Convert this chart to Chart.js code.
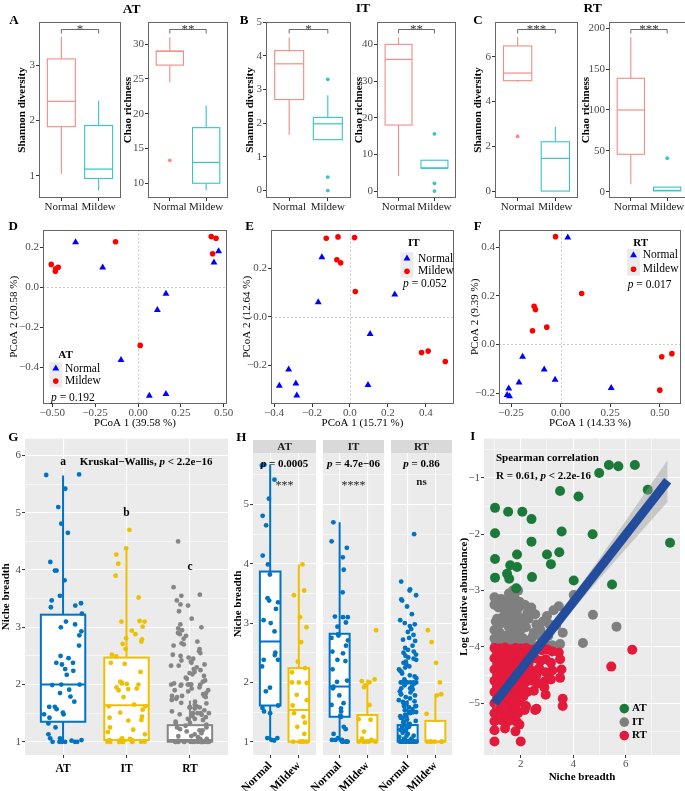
<!DOCTYPE html>
<html>
<head>
<meta charset="utf-8">
<title>Diversity, PCoA and niche breadth</title>
<script src="https://cdn.jsdelivr.net/npm/chart.js@4.4.1/dist/chart.umd.min.js"></script>
<style>
html,body{margin:0;padding:0;background:#fff;}
#fig{position:relative;width:685px;height:791px;overflow:hidden;background:#fff;}
#fig canvas{position:absolute;}
.tag{position:absolute;transform:translate(-50%,-50%);font-family:"Liberation Serif","Times New Roman",serif;font-weight:bold;color:#000;white-space:nowrap;line-height:1;}
</style>
</head>
<body>
<div id="fig"></div>
<script>
/* ======================= DATA ======================= */
const groups = ['Normal', 'Mildew'];
const tissues = ['AT', 'IT', 'RT'];

/* A-C box statistics: [lower whisker, Q1, median, Q3, upper whisker] (Normal, Mildew) */
const atShannonBox = [[1.03, 1.89, 2.35, 3.12, 3.52], [0.73, 0.95, 1.12, 1.91, 2.36]];
const atShannonOut = [[], []];
const atChaoBox = [[24.5, 27.0, 29.0, 29.0, 31.0], [9.0, 10.0, 13.0, 18.0, 21.2]];
const atChaoOut = [[13.3], []];
const itShannonBox = [[1.65, 2.70, 3.76, 4.15, 4.54], [1.51, 1.51, 1.98, 2.17, 2.83]];
const itShannonOut = [[], [3.30, 0.40, 0.00]];
const itChaoBox = [[4.1, 18.0, 35.9, 40.0, 41.9], [6.2, 6.2, 6.3, 8.4, 8.4]];
const itChaoOut = [[], [15.6, 2.1, 0.0]];
const rtShannonBox = [[4.88, 4.93, 5.27, 6.48, 6.87], [0.00, 0.00, 1.46, 2.20, 2.87]];
const rtShannonOut = [[2.44], []];
const rtChaoBox = [[9.0, 45.8, 100.0, 138.8, 188.9], [1.0, 1.0, 1.6, 5.6, 5.6]];
const rtChaoOut = [[], [41.0]];
const diversitySig = ['*', '**', '*', '**', '***', '***'];
const diversitySigY = [3.66, 32.2, 4.78, 44.1, 7.22, 198.8];

const atShannonTicks = [1, 2, 3];
const atChaoTicks = [10, 15, 20, 25, 30];
const itShannonTicks = [0, 1, 2, 3, 4, 5];
const itChaoTicks = [0, 10, 20, 30, 40];
const rtShannonTicks = [0, 2, 4, 6];
const rtChaoTicks = [0, 50, 100, 150, 200];

/* D-F PCoA coordinates */
const atNormalPC1 = [-0.364, -0.206, 0.470, 0.443, 0.163, 0.113, -0.099, 0.066, 0.163];
const atNormalPC2 = [0.225, 0.098, 0.180, 0.123, -0.033, -0.114, -0.364, -0.543, -0.534];
const atMildewPC1 = [-0.131, -0.506, -0.480, -0.465, -0.482, 0.427, 0.455, 0.435, 0.013];
const atMildewPC2 = [0.227, 0.114, 0.092, 0.100, 0.080, 0.253, 0.245, 0.167, -0.291];
const itNormalPC1 = [-0.148, -0.167, 0.236, 0.106, -0.323, -0.372, -0.285, -0.280, 0.095];
const itNormalPC2 = [0.245, 0.060, 0.091, -0.071, -0.218, -0.285, -0.275, -0.325, -0.282];
const itMildewPC1 = [-0.125, -0.063, 0.024, -0.069, -0.049, 0.028, 0.377, 0.412, 0.502];
const itMildewPC2 = [0.323, 0.329, 0.326, 0.235, 0.222, 0.104, -0.148, -0.142, -0.185];
const rtNormalPC1 = [0.036, -0.192, -0.083, -0.028, -0.210, -0.262, -0.270, -0.258, 0.255];
const rtNormalPC2 = [0.440, -0.051, -0.103, -0.145, -0.157, -0.181, -0.208, -0.213, -0.179];
const rtMildewPC1 = [-0.026, 0.106, -0.134, -0.127, -0.070, -0.142, 0.510, 0.561, 0.500];
const rtMildewPC2 = [0.443, 0.209, 0.157, 0.143, 0.071, 0.056, -0.051, -0.038, -0.188];
const pcoaP = ['0.192', '0.052', '0.017'];
const pcoaAxis1 = ['PCoA 1 (39.58 %)', 'PCoA 1 (15.71 %)', 'PCoA 1 (14.33 %)'];
const pcoaAxis2 = ['PCoA 2 (20.58 %)', 'PCoA 2 (12.64 %)', 'PCoA 2 (9.39 %)'];
const dTicksX = [-0.5, -0.25, 0, 0.25, 0.5];
const dLabelsX = ['\u22120.50', '\u22120.25', '0.00', '0.25', '0.50'];
const dTicksY = [-0.4, -0.2, 0, 0.2];
const dLabelsY = ['\u22120.4', '\u22120.2', '0.0', '0.2'];
const eTicksX = [-0.4, -0.2, 0, 0.2, 0.4];
const eLabelsX = ['\u22120.4', '\u22120.2', '0.0', '0.2', '0.4'];
const eTicksY = [-0.2, 0, 0.2];
const eLabelsY = ['\u22120.2', '0.0', '0.2'];
const fTicksX = [-0.25, 0, 0.25, 0.5];
const fLabelsX = ['\u22120.25', '0.00', '0.25', '0.50'];
const fTicksY = [-0.2, 0, 0.2, 0.4];
const fLabelsY = ['\u22120.2', '0.0', '0.2', '0.4'];

/* G-H niche breadth values */
const nbAtNormal = [5.67, 5.66, 5.42, 5.10, 4.81, 4.65, 4.14, 3.99, 3.82, 3.42, 3.38, 3.35, 3.24, 3.05, 3.00, 2.86,
  2.50, 2.46, 2.38, 2.38, 2.27, 1.91, 1.85, 1.61, 1.57, 1.51, 1.48, 1.06, 1.06, 1.03, 1.02];
const nbAtMildew = [3.99, 3.55, 3.47, 3.10, 2.93, 2.68, 2.35, 2.24, 2.17, 2.00, 2.00, 1.99, 1.79, 1.70, 1.61, 1.48,
  1.42, 1.32, 1.25, 1.13, 1.00, 1.00, 1.00, 1.00, 1.00, 1.00];
const nbItNormal = [4.70, 4.38, 4.27, 4.11, 3.90, 3.52, 3.11, 3.10, 3.10, 3.01, 2.94, 2.81, 2.79, 2.75, 2.71, 2.62,
  2.52, 2.49, 2.38, 2.36, 2.22, 2.03, 2.01, 1.93, 1.90, 1.78, 1.65, 1.62, 1.56, 1.51, 1.44, 1.42, 1.25, 1.21,
  1.13, 1.06, 1.03, 1.03, 1.03, 1.00, 1.00, 1.00, 1.00, 1.00];
const nbItMildew = [2.88, 2.05, 2.02, 2.00, 1.95, 1.92, 1.62, 1.38, 1.37, 1.17, 1.05, 1.03, 1.00, 1.00, 1.00, 1.00, 1.00, 1.00];
const nbRtNormal = [4.50, 3.70, 3.57, 3.55, 3.47, 3.40, 3.38, 3.28, 3.15, 3.05, 3.00, 2.98, 2.95, 2.90, 2.85, 2.80,
  2.75, 2.72, 2.70, 2.62, 2.58, 2.55, 2.52, 2.50, 2.47, 2.45, 2.42, 2.40, 2.38, 2.35, 2.33, 2.30, 2.27, 2.25,
  2.22, 2.20, 2.18, 2.15, 2.12, 2.10, 2.07, 2.05, 2.02, 2.00, 2.00, 2.00, 2.00, 2.00, 2.00, 2.00, 1.98, 1.95,
  1.93, 1.90, 1.90, 1.88, 1.85, 1.83, 1.80, 1.80, 1.78, 1.75, 1.73, 1.70, 1.68, 1.67, 1.65, 1.62, 1.60, 1.60,
  1.60, 1.60, 1.58, 1.55, 1.53, 1.50, 1.50, 1.50, 1.50, 1.48, 1.45, 1.43, 1.40, 1.40, 1.38, 1.35, 1.33, 1.33,
  1.30, 1.28, 1.25, 1.25, 1.22, 1.20, 1.20, 1.18, 1.15, 1.13, 1.10, 1.10, 1.08, 1.05, 1.05, 1.03, 1.02, 1.00,
  1.00, 1.00, 1.00, 1.00, 1.00, 1.00, 1.00, 1.00, 1.00, 1.00, 1.00, 1.00, 1.00, 1.00];
const nbRtMildew = [2.88, 2.68, 2.33, 2.00, 1.80, 1.78, 1.47, 1.00, 1.00, 1.00, 1.00, 1.00, 1.00];

const gBox = [[1.00, 1.35, 2.00, 3.22, 5.65], [1.00, 1.03, 1.64, 2.47, 4.39], [1.00, 1.00, 1.03, 1.29, 1.72]];
const gLetters = ['a', 'b', 'c'];
const gLetterY = [5.88, 5.00, 4.06];
const hAtBox = [[1.02, 1.61, 2.69, 3.87, 5.67], [1.00, 1.00, 1.535, 2.24, 3.99]];
const hItBox = [[1.00, 1.42, 1.93, 2.82, 4.70], [1.00, 1.00, 1.02, 1.45, 2.05]];
const hRtBox = [[1.00, 1.00, 1.02, 1.28, 1.70], [1.00, 1.00, 1.00, 1.35, 1.79]];
const hP = ['0.0005', '4.7e\u221206', '0.86'];
const hSig = ['***', '****', 'ns'];
const gTicks = [1, 1.5, 2, 2.5, 3, 3.5, 4, 4.5, 5, 5.5, 6];
const gLabels = ['1', '', '2', '', '3', '', '4', '', '5', '', '6'];
const hTicks = [1, 1.5, 2, 2.5, 3, 3.5, 4, 4.5, 5, 5.5];
const hLabels = ['1', '', '2', '', '3', '', '4', '', '5', ''];

/* I: niche breadth vs log relative abundance */
const iAtPts = [[5.36, -0.77], [5.72, -0.79], [6.35, -0.77], [4.99, -0.91], [6.84, -1.21], [3.50, -1.23], [4.20, -1.33],
  [1.02, -1.53], [1.52, -1.60], [2.06, -1.60], [2.41, -1.73], [1.02, -1.98], [3.56, -1.95], [4.74, -2.00],
  [7.69, -2.15], [2.41, -2.13], [1.02, -2.44], [1.86, -2.36], [3.00, -2.36], [3.47, -2.32], [1.60, -2.55],
  [1.86, -2.58], [3.15, -2.53], [1.48, -2.70], [1.56, -2.79], [1.02, -2.77], [2.43, -2.76], [4.02, -2.82],
  [5.48, -2.89], [1.83, -2.96]];
const iItPts = [[1.00, -3.12], [1.25, -3.15], [1.55, -3.05], [1.75, -3.10], [1.90, -3.00], [1.95, -3.20], [1.60, -3.30],
  [1.35, -3.45], [1.10, -3.50], [1.50, -3.55], [1.85, -3.40], [2.05, -3.50], [2.40, -3.30], [2.55, -3.42],
  [2.85, -3.55], [3.00, -3.45], [3.25, -3.35], [3.45, -3.28], [4.02, -3.08], [4.75, -3.43], [5.65, -3.64],
  [4.37, -3.93], [1.00, -3.70], [1.20, -3.75], [1.45, -3.80], [1.70, -3.72], [1.95, -3.78], [2.20, -3.65],
  [2.45, -3.82], [2.75, -3.70], [3.05, -3.80], [3.35, -3.62], [3.60, -3.75], [1.05, -3.95], [1.30, -3.98],
  [1.60, -3.95], [1.85, -3.92], [2.10, -3.97], [2.35, -3.93], [2.65, -3.98], [2.95, -3.95], [3.20, -3.97],
  [1.15, -3.30], [1.75, -3.55], [2.25, -3.40], [1.40, -3.20], [2.60, -3.60], [3.50, -3.95], [1.90, -3.60],
  [1.55, -3.65], [1.00, -3.25], [1.20, -3.60], [1.40, -3.35], [1.65, -3.45], [1.80, -3.20], [1.30, -3.85],
  [1.55, -3.85], [1.80, -3.85], [2.00, -3.70], [2.30, -3.50], [2.50, -3.75], [2.80, -3.85], [3.10, -3.60],
  [2.10, -3.85], [1.70, -3.00], [1.62, -3.15], [1.92, -3.30], [2.15, -3.25], [1.00, -3.85], [1.05, -3.55]];
const iRtPts = [[1.00, -4.02], [1.20, -4.03], [1.40, -4.01], [1.60, -4.04], [1.80, -4.02], [2.00, -4.03], [2.20, -4.02],
  [2.40, -4.05], [2.60, -4.03], [2.80, -4.06], [3.00, -4.04], [3.20, -4.08], [3.45, -4.10],
  [1.00, -4.20], [1.15, -4.22], [1.35, -4.18], [1.55, -4.21], [1.75, -4.20], [1.95, -4.23], [2.15, -4.19],
  [2.35, -4.22], [2.55, -4.20], [2.75, -4.25], [2.95, -4.22], [3.15, -4.28], [3.50, -4.22],
  [1.00, -4.40], [1.20, -4.38], [1.40, -4.42], [1.60, -4.40], [1.80, -4.39], [2.00, -4.41], [2.20, -4.40],
  [2.45, -4.43], [2.70, -4.38], [2.95, -4.45], [3.20, -4.42], [3.55, -4.40],
  [1.00, -4.60], [1.15, -4.58], [1.35, -4.62], [1.55, -4.60], [1.75, -4.61], [1.95, -4.58], [2.20, -4.62],
  [2.45, -4.60], [2.65, -4.65], [2.90, -4.62], [3.15, -4.58], [3.50, -4.55],
  [1.00, -4.80], [1.20, -4.78], [1.40, -4.82], [1.60, -4.80], [1.80, -4.79], [2.00, -4.82], [2.25, -4.80],
  [2.50, -4.78], [2.95, -4.85], [2.90, -4.72],
  [1.00, -5.00], [1.15, -5.02], [1.35, -4.98], [1.55, -5.00], [1.75, -5.03], [1.95, -4.98], [2.20, -5.05],
  [2.55, -5.12], [3.60, -4.92], [3.60, -5.05],
  [1.00, -5.18], [1.30, -5.15], [1.50, -5.20], [1.70, -5.15], [1.90, -5.18], [2.15, -5.12], [2.60, -5.10],
  [1.00, -5.32], [1.25, -5.30], [1.45, -5.35], [1.65, -5.30], [1.85, -5.33], [1.95, -5.38],
  [1.00, -5.48], [1.40, -5.45], [1.80, -5.50], [1.00, -5.68], [2.00, -5.68],
  [1.10, -4.10], [1.30, -4.12], [1.50, -4.10], [1.70, -4.12], [1.90, -4.10], [2.10, -4.12], [2.30, -4.10],
  [1.10, -4.30], [1.30, -4.30], [1.50, -4.32], [1.70, -4.30], [1.90, -4.30], [2.10, -4.32], [2.30, -4.30],
  [1.10, -4.50], [1.30, -4.50], [1.50, -4.52], [1.70, -4.50], [1.90, -4.50], [2.10, -4.52], [2.35, -4.50],
  [2.60, -4.50], [1.10, -4.70], [1.30, -4.70], [1.50, -4.72], [1.70, -4.70], [1.90, -4.70], [2.10, -4.72],
  [1.10, -4.90], [1.30, -4.90], [1.50, -4.90], [1.70, -4.92], [1.90, -4.90], [2.10, -4.88],
  [1.10, -5.08], [1.40, -5.08], [1.80, -5.08], [5.45, -4.35], [6.25, -4.05]];
const fitX = [1.0, 7.6];
const fitY = [-5.0, -1.05];
const bandX = [1.0, 2.0, 3.0, 4.0, 5.0, 6.0, 7.6];
const bandUpper = [-4.90, -4.35, -3.74, -3.09, -2.43, -1.76, -0.68];
const bandLower = [-5.10, -4.45, -3.88, -3.33, -2.79, -2.26, -1.42];
const iTicksX = [1, 2, 3, 4, 5, 6, 7];
const iLabelsX = ['', '2', '', '4', '', '6', ''];
const iTicksY = [-5.5, -5, -4.5, -4, -3.5, -3, -2.5, -2, -1.5, -1, -0.5];
const iLabelsY = ['', '\u22125', '', '\u22124', '', '\u22123', '', '\u22122', '', '\u22121', ''];

/* ======================= HELPERS ======================= */
const SERIF = '"Liberation Serif","Times New Roman",serif';
Chart.defaults.font.family = SERIF;
const fig = document.getElementById('fig');

function fnt(size, weight, style) { return { family: SERIF, size: size, weight: weight || 'normal', style: style || 'normal', lineHeight: 1.2 }; }
function css(size, weight, style) { return (style || 'normal') + ' ' + (weight || 'normal') + ' ' + size + 'px ' + SERIF; }

function gridCfg(kind, majors) {
  const isMajor = c => !!c.tick && majors.indexOf(c.tick.value) >= 0;
  if (kind === 'frame') {
    return { display: true, drawOnChartArea: false, drawTicks: true, tickLength: 3, tickColor: '#333', tickWidth: 1, color: '#333', lineWidth: 1 };
  }
  return {
    display: true, drawOnChartArea: true, drawTicks: kind === 'gray', tickLength: kind === 'gray' ? 3 : 0,
    color: '#ffffff', lineWidth: c => (isMajor(c) ? 1.1 : 0.55),
    tickColor: c => (isMajor(c) ? '#333' : 'rgba(0,0,0,0)'), tickWidth: 1
  };
}

function axis(p) {
  const horizontal = p.pos === 'x';
  return {
    type: 'linear', position: horizontal ? 'bottom' : 'left', bounds: 'data', min: p.min, max: p.max,
    afterBuildTicks: s => { s.ticks = p.ticks.map(v => ({ value: v })); },
    afterFit: s => { if (horizontal) s.height = p.size; else s.width = p.size; },
    ticks: {
      display: !!p.labels, autoSkip: false, minRotation: p.rot || 0, maxRotation: p.rot || 0,
      callback: (v, i) => (p.labels ? p.labels[i] : ''),
      font: fnt(p.fs || 11, p.fw), color: p.tc || '#4d4d4d', padding: p.tpad == null ? 1 : p.tpad
    },
    grid: gridCfg(p.grid, p.majors || p.ticks),
    border: { display: false },
    title: {
      display: !!p.title, text: p.title || '', color: '#000', font: fnt(p.tfs || 11, p.tfw || 'bold'),
      padding: horizontal ? { top: 0, bottom: p.tp || 0 } : { top: p.tp || 0, bottom: 0 }
    }
  };
}

function build(o) {
  const L = o.plot[0], T = o.plot[1], R = o.plot[2], B = o.plot[3], e = o.ext;
  const w = R - L + e.l + e.r, h = B - T + e.t + e.b;
  const cv = document.createElement('canvas');
  cv.width = w; cv.height = h;
  cv.style.left = (L - e.l) + 'px'; cv.style.top = (T - e.t) + 'px';
  cv.style.width = w + 'px'; cv.style.height = h + 'px';
  fig.appendChild(cv);
  const noop = () => {};
  return new Chart(cv, {
    type: o.type || 'scatter',
    data: { datasets: o.datasets },
    options: {
      responsive: false, animation: false, events: [], devicePixelRatio: 1,
      layout: { padding: { left: 0, top: e.t, right: e.r, bottom: 0 } },
      plugins: { legend: { display: false }, tooltip: { enabled: false } },
      scales: { x: o.x, y: o.y }
    },
    plugins: [{ id: 'deco', beforeDraw: o.bg || noop, beforeDatasetsDraw: o.under || noop, afterDraw: o.top || noop }]
  });
}

function jit(i, w) { const f = Math.sin((i + 1) * 12.9898) * 43758.5453; return ((f - Math.floor(f)) - 0.5) * 2 * w; }

function drawBoxes(ch, stats, cols, width, lw, medLw) {
  const ctx = ch.ctx, x = ch.scales.x, y = ch.scales.y;
  const hw = Math.abs(x.getPixelForValue(1 + width / 2) - x.getPixelForValue(1));
  ctx.save();
  stats.forEach((s, i) => {
    const cx = x.getPixelForValue(i + 1);
    const lo = y.getPixelForValue(s[0]), q1 = y.getPixelForValue(s[1]), md = y.getPixelForValue(s[2]);
    const q3 = y.getPixelForValue(s[3]), hi = y.getPixelForValue(s[4]);
    ctx.strokeStyle = cols[i]; ctx.lineWidth = lw;
    ctx.beginPath(); ctx.moveTo(cx, hi); ctx.lineTo(cx, q3); ctx.moveTo(cx, q1); ctx.lineTo(cx, lo); ctx.stroke();
    ctx.fillStyle = '#fff'; ctx.fillRect(cx - hw, q3, 2 * hw, q1 - q3);
    ctx.strokeRect(cx - hw, q3, 2 * hw, q1 - q3);
    ctx.lineWidth = medLw;
    ctx.beginPath(); ctx.moveTo(cx - hw, md); ctx.lineTo(cx + hw, md); ctx.stroke();
  });
  ctx.restore();
}

function frame(ch, col) {
  const a = ch.chartArea, ctx = ch.ctx;
  ctx.save(); ctx.strokeStyle = col; ctx.lineWidth = 1;
  ctx.strokeRect(Math.round(a.left) + 0.5, Math.round(a.top) + 0.5, Math.round(a.right - a.left) - 1, Math.round(a.bottom - a.top) - 1);
  ctx.restore();
}

function fillArea(ch, col) {
  const a = ch.chartArea, ctx = ch.ctx;
  ctx.save(); ctx.fillStyle = col; ctx.fillRect(a.left, a.top, a.right - a.left, a.bottom - a.top); ctx.restore();
}

function runs(ctx, parts, x0, cy, size, align, color) {
  let tot = 0;
  const ws = parts.map(p => { ctx.font = css(size, p[1], p[2]); const w = ctx.measureText(p[0]).width; tot += w; return w; });
  let x = align === 'left' ? x0 : x0 - tot / 2;
  ctx.textAlign = 'left'; ctx.textBaseline = 'middle'; ctx.fillStyle = color || '#000';
  parts.forEach((p, i) => { ctx.font = css(size, p[1], p[2]); ctx.fillText(p[0], x, cy); x += ws[i]; });
}

function bracket(ch, yv, label) {
  const ctx = ch.ctx, x = ch.scales.x, y = ch.scales.y;
  const x1 = x.getPixelForValue(1), x2 = x.getPixelForValue(2), py = Math.round(y.getPixelForValue(yv)) + 0.5;
  ctx.save(); ctx.strokeStyle = '#444'; ctx.lineWidth = 0.8;
  ctx.beginPath(); ctx.moveTo(x1, py + 4); ctx.lineTo(x1, py); ctx.lineTo(x2, py); ctx.lineTo(x2, py + 4); ctx.stroke();
  ctx.fillStyle = '#333'; ctx.font = css(13); ctx.textAlign = 'center'; ctx.textBaseline = 'alphabetic';
  ctx.fillText(label, (x1 + x2) / 2, py + 3.5);
  ctx.restore();
}

function tag(text, x, y, size) {
  const d = document.createElement('div');
  d.className = 'tag'; d.textContent = text;
  d.style.left = x + 'px'; d.style.top = y + 'px'; d.style.fontSize = size + 'px';
  fig.appendChild(d);
}

/* ======================= A-C ======================= */
const boxCols = ['#f28d85', '#36c4c8'];
const topCfg = [
  { plot: [39, 22, 121, 198], extL: 39, tp: 15.1, title: 'Shannon diversity', box: atShannonBox, out: atShannonOut, ticks: atShannonTicks, range: [0.595, 3.79] },
  { plot: [148, 22, 228, 198], extL: 30, tp: 3.7, title: 'Chao richness', box: atChaoBox, out: atChaoOut, ticks: atChaoTicks, range: [7.88, 33.2] },
  { plot: [266, 22, 351, 198], extL: 30, tp: 7.1, title: 'Shannon diversity', box: itShannonBox, out: itShannonOut, ticks: itShannonTicks, range: [-0.22, 5.0] },
  { plot: [377, 22, 456, 198], extL: 30, tp: 5.1, title: 'Chao richness', box: itChaoBox, out: itChaoOut, ticks: itChaoTicks, range: [-1.9, 46.1] },
  { plot: [495, 22, 578, 198], extL: 30, tp: 6.1, title: 'Shannon diversity', box: rtShannonBox, out: rtShannonOut, ticks: rtShannonTicks, range: [-0.31, 7.55] },
  { plot: [609, 22, 689, 198], extL: 30, tp: 0.4, title: 'Chao richness', box: rtChaoBox, out: rtChaoOut, ticks: rtChaoTicks, range: [-7.7, 207.7] }
];
topCfg.forEach((c, k) => {
  build({
    plot: c.plot, ext: { l: c.extL, t: 22, r: 4, b: 22 },
    datasets: c.out.map((arr, i) => ({
      data: arr.map(v => ({ x: i + 1, y: v })), pointRadius: 1.9, pointBackgroundColor: boxCols[i], pointBorderWidth: 0
    })),
    x: axis({ pos: 'x', min: 0.4, max: 2.6, ticks: [1, 2], labels: groups, size: 22, grid: 'frame', fs: 11, tc: '#1a1a1a', tpad: 0 }),
    y: axis({ pos: 'y', min: c.range[0], max: c.range[1], ticks: c.ticks, labels: c.ticks.map(String), size: c.extL, grid: 'frame', fs: 11, title: c.title, tp: c.tp }),
    under: ch => drawBoxes(ch, c.box, boxCols, 0.75, 1.1, 1.2, 2.0),
    top: ch => { frame(ch, '#666'); bracket(ch, diversitySigY[k], diversitySig[k]); }
  });
});

/* ======================= D-F ======================= */
function legendPC(ch, lg, title, p) {
  const ctx = ch.ctx, a = ch.chartArea, X = v => a.left + v, Y = v => a.top + v;
  ctx.save();
  ctx.fillStyle = '#000'; ctx.font = css(11, 'bold'); ctx.textAlign = 'left'; ctx.textBaseline = 'middle';
  ctx.fillText(title, X(lg.tx), Y(lg.ty));
  ctx.fillStyle = '#ebebeb'; ctx.fillRect(X(lg.kx - 6.5), Y(lg.k1 - 6.3), 13, lg.k2 - lg.k1 + 12.6);
  ctx.fillStyle = '#0000ff';
  const r = 4, kx = X(lg.kx), k1 = Y(lg.k1);
  ctx.beginPath(); ctx.moveTo(kx, k1 - r); ctx.lineTo(kx + r * 0.866, k1 + r * 0.5); ctx.lineTo(kx - r * 0.866, k1 + r * 0.5); ctx.closePath(); ctx.fill();
  ctx.fillStyle = '#ff0000'; ctx.beginPath(); ctx.arc(kx, Y(lg.k2), 2.8, 0, Math.PI * 2); ctx.fill();
  ctx.fillStyle = '#000'; ctx.font = css(11.5);
  ctx.fillText(groups[0], X(lg.lx), Y(lg.k1)); ctx.fillText(groups[1], X(lg.lx), Y(lg.k2));
  runs(ctx, [['p', 'normal', 'italic'], [' = ' + p, 'normal', 'normal']], X(lg.px), Y(lg.py), 11.5, 'left');
  ctx.restore();
}
function zeroLines(ch) {
  const ctx = ch.ctx, a = ch.chartArea, x = ch.scales.x, y = ch.scales.y;
  const px = Math.round(x.getPixelForValue(0)) + 0.5, py = Math.round(y.getPixelForValue(0)) + 0.5;
  ctx.save(); ctx.strokeStyle = '#bdbdbd'; ctx.lineWidth = 0.8; ctx.setLineDash([2, 2]);
  ctx.beginPath(); ctx.moveTo(px, a.top); ctx.lineTo(px, a.bottom); ctx.moveTo(a.left, py); ctx.lineTo(a.right, py); ctx.stroke();
  ctx.restore();
}
const pcCfg = [
  { plot: [43, 226, 227, 404], extL: 43, extR: 8, tp: 7.4, xr: [-0.554, 0.519], yr: [-0.584, 0.288], xt: dTicksX, xl: dLabelsX, yt: dTicksY, yl: dLabelsY,
    nx: atNormalPC1, ny: atNormalPC2, mx: atMildewPC1, my: atMildewPC2,
    lg: { tx: 15.3, ty: 126, kx: 12.8, k1: 139, k2: 151.5, lx: 22, px: 8, py: 168 } },
  { plot: [271, 226, 456, 404], extL: 40, extR: 2, tp: 9.7, xr: [-0.416, 0.548], yr: [-0.36, 0.359], xt: eTicksX, xl: eLabelsX, yt: eTicksY, yl: eLabelsY,
    nx: itNormalPC1, ny: itNormalPC2, mx: itMildewPC1, my: itMildewPC2,
    lg: { tx: 137, ty: 14, kx: 136, k1: 29, k2: 41.7, lx: 147, px: 132, py: 54.7 } },
  { plot: [499, 226, 685, 404], extL: 40, extR: 0, tp: 9.7, xr: [-0.311, 0.607], yr: [-0.245, 0.472], xt: fTicksX, xl: fLabelsX, yt: fTicksY, yl: fLabelsY,
    nx: rtNormalPC1, ny: rtNormalPC2, mx: rtMildewPC1, my: rtMildewPC2,
    lg: { tx: 134.3, ty: 14, kx: 134.5, k1: 25.7, k2: 39.7, lx: 143.7, px: 128.7, py: 55.7 } }
];
pcCfg.forEach((c, k) => {
  build({
    plot: c.plot, ext: { l: c.extL, t: 4, r: c.extR, b: 28 },
    datasets: [
      { data: c.nx.map((v, i) => ({ x: v, y: c.ny[i] })), pointStyle: 'triangle', pointRadius: 4, pointBackgroundColor: '#0000ff', pointBorderWidth: 0 },
      { data: c.mx.map((v, i) => ({ x: v, y: c.my[i] })), pointStyle: 'circle', pointRadius: 2.8, pointBackgroundColor: '#ff0000', pointBorderWidth: 0 }
    ],
    x: axis({ pos: 'x', min: c.xr[0], max: c.xr[1], ticks: c.xt, labels: c.xl, size: 28, grid: 'frame', fs: 11, tpad: 0, title: pcoaAxis1[k], tfw: 'normal', tp: 2.1 }),
    y: axis({ pos: 'y', min: c.yr[0], max: c.yr[1], ticks: c.yt, labels: c.yl, size: c.extL, grid: 'frame', fs: 11, title: pcoaAxis2[k], tfw: 'normal', tp: c.tp }),
    under: ch => zeroLines(ch),
    top: ch => { frame(ch, '#666'); legendPC(ch, c.lg, tissues[k], pcoaP[k]); }
  });
});

/* ======================= G ======================= */
const jco = ['#0073C2', '#EFC000', '#868686'];
const gValues = [nbAtNormal.concat(nbAtMildew), nbItNormal.concat(nbItMildew), nbRtNormal.concat(nbRtMildew)];
build({
  plot: [25, 437, 228, 755], ext: { l: 25, t: 6, r: 4, b: 25 },
  datasets: gValues.map((arr, i) => ({
    data: arr.map((v, j) => ({ x: i + 1 + jit(j + i * 500, 0.3), y: v })),
    pointRadius: 2.4, pointBackgroundColor: jco[i], pointBorderWidth: 0
  })),
  x: axis({ pos: 'x', min: 0.4, max: 3.6, ticks: [1, 2, 3], labels: tissues, size: 25, grid: 'gray', fs: 11.5, fw: 'bold', tc: '#000', tpad: 4 }),
  y: axis({ pos: 'y', min: 0.769, max: 6.296, ticks: gTicks, labels: gLabels, majors: [1, 2, 3, 4, 5, 6], size: 25, grid: 'gray', fs: 11, title: 'Niche breadth', tp: 0 }),
  bg: ch => fillArea(ch, '#ebebeb'),
  under: ch => drawBoxes(ch, gBox, jco, 0.7, 2, 2, 2.6),
  top: ch => {
    const ctx = ch.ctx, x = ch.scales.x, y = ch.scales.y;
    ctx.save();
    ctx.fillStyle = '#000'; ctx.font = css(11.5, 'bold'); ctx.textAlign = 'center'; ctx.textBaseline = 'middle';
    gLetters.forEach((t, i) => ctx.fillText(t, x.getPixelForValue(i + 1), y.getPixelForValue(gLetterY[i])));
    runs(ctx, [['Kruskal\u2212Wallis, ', 'bold', 'normal'], ['p', 'bold', 'italic'], [' < 2.2e\u221216', 'bold', 'normal']],
      x.getPixelForValue(2.31), y.getPixelForValue(5.88), 11);
    ctx.restore();
  }
});

/* ======================= H ======================= */
const hCols = ['#0073C2', '#EFC000'];
const hPlots = [[253, 453, 320, 755], [323, 453, 388, 755], [391, 453, 456, 755]];
const hBoxes = [hAtBox, hItBox, hRtBox];
const hVals = [[nbAtNormal, nbAtMildew], [nbItNormal, nbItMildew], [nbRtNormal, nbRtMildew]];
hPlots.forEach((pl, t) => {
  const first = t === 0;
  build({
    plot: pl, ext: { l: first ? 22 : 20, t: 13, r: 0, b: 36 },
    datasets: hVals[t].map((arr, g) => ({
      data: arr.map((v, j) => ({ x: g + 1 + jit(j + g * 1000 + t * 3000 + 77, 0.32), y: v })),
      pointRadius: 2.4, pointBackgroundColor: hCols[g], pointBorderWidth: 0
    })),
    x: axis({ pos: 'x', min: 0.4, max: 2.6, ticks: [1, 2], labels: groups, size: 36, grid: 'gray', fs: 11.5, fw: 'bold', tc: '#000', tpad: 1, rot: 45 }),
    y: axis({ pos: 'y', min: 0.775, max: 5.87, ticks: hTicks, labels: first ? hLabels : null, majors: [1, 2, 3, 4, 5],
      size: first ? 22 : 20, grid: first ? 'gray' : 'grayNoTicks', fs: 11, title: first ? 'Niche breadth' : null, tp: 0.4 }),
    bg: ch => fillArea(ch, '#ebebeb'),
    under: ch => drawBoxes(ch, hBoxes[t], hCols, 0.72, 2, 2, 2.6),
    top: ch => {
      const ctx = ch.ctx, a = ch.chartArea, x = ch.scales.x, y = ch.scales.y;
      ctx.save();
      ctx.fillStyle = '#d9d9d9'; ctx.fillRect(a.left, a.top - 13, a.right - a.left, 13);
      ctx.fillStyle = '#1a1a1a'; ctx.font = css(11, 'bold'); ctx.textAlign = 'center'; ctx.textBaseline = 'middle';
      ctx.fillText(tissues[t], (a.left + a.right) / 2, a.top - 6.2);
      runs(ctx, [['p', 'bold', 'italic'], [' = ' + hP[t], 'bold', 'normal']], x.getPixelForValue(1.5), y.getPixelForValue(5.68), 11);
      ctx.fillStyle = '#222'; ctx.textAlign = 'center';
      if (hSig[t] === 'ns') { ctx.font = css(11, 'bold'); ctx.textBaseline = 'middle'; ctx.fillText(hSig[t], x.getPixelForValue(1.5), y.getPixelForValue(5.37)); }
      else { ctx.font = css(12); ctx.textBaseline = 'alphabetic'; ctx.fillText(hSig[t], x.getPixelForValue(1.5), y.getPixelForValue(5.37) + 6); }
      ctx.restore();
    }
  });
});

/* ======================= I ======================= */
const iCols = ['#1b7a3a', '#7f7f7f', '#e31a3c'];
build({
  type: 'line',
  plot: [484, 435, 685, 755], ext: { l: 27, t: 4, r: 0, b: 36 },
  datasets: [
    { data: fitX.map((v, i) => ({ x: v, y: fitY[i] })), showLine: true, borderColor: '#234d9c', borderWidth: 9, pointRadius: 0, fill: false, order: 0 },
    { data: bandX.map((v, i) => ({ x: v, y: bandUpper[i] })), showLine: true, borderWidth: 0, borderColor: 'rgba(0,0,0,0)', pointRadius: 0, fill: '+1', backgroundColor: 'rgba(150,150,150,0.42)', order: 1 },
    { data: bandX.map((v, i) => ({ x: v, y: bandLower[i] })), showLine: true, borderWidth: 0, borderColor: 'rgba(0,0,0,0)', pointRadius: 0, fill: false, order: 1 },
    { data: iRtPts.map(p => ({ x: p[0], y: p[1] })), showLine: false, pointRadius: 5, pointBackgroundColor: iCols[2], pointBorderWidth: 0, order: 2 },
    { data: iAtPts.map(p => ({ x: p[0], y: p[1] })), showLine: false, pointRadius: 5, pointBackgroundColor: iCols[0], pointBorderWidth: 0, order: 3 },
    { data: iItPts.map(p => ({ x: p[0], y: p[1] })), showLine: false, pointRadius: 5, pointBackgroundColor: iCols[1], pointBorderWidth: 0, order: 4 }
  ],
  x: axis({ pos: 'x', min: 0.6, max: 8.07, ticks: iTicksX, labels: iLabelsX, majors: [2, 4, 6], size: 36, grid: 'gray', fs: 11, tpad: 0, title: 'Niche breadth', tp: 7.7 }),
  y: axis({ pos: 'y', min: -5.92, max: -0.3, ticks: iTicksY, labels: iLabelsY, majors: [-5, -4, -3, -2, -1], size: 27, grid: 'gray', fs: 11, title: 'Log (relative abundance)', tp: 0.7 }),
  bg: ch => fillArea(ch, '#ebebeb'),
  top: ch => {
    const ctx = ch.ctx, a = ch.chartArea;
    ctx.save();
    runs(ctx, [['Spearman correlation', 'bold', 'normal']], a.left + 12, a.top + 20, 11, 'left');
    runs(ctx, [['R = 0.61, ', 'bold', 'normal'], ['p', 'bold', 'italic'], [' < 2.2e-16', 'bold', 'normal']], a.left + 12, a.top + 38, 11, 'left');
    const ly = [270, 283.5, 297];
    tissues.forEach((t, i) => {
      ctx.fillStyle = iCols[i]; ctx.beginPath(); ctx.arc(a.left + 140.3, a.top + ly[i], 4.8, 0, Math.PI * 2); ctx.fill();
      ctx.fillStyle = '#000'; ctx.font = css(11, 'bold'); ctx.textAlign = 'left'; ctx.textBaseline = 'middle';
      ctx.fillText(t, a.left + 148, a.top + ly[i]);
    });
    ctx.restore();
  }
});

/* ======================= panel letters & titles ======================= */
tag('AT', 131.7, 8.5, 13.5); tag('IT', 363, 8, 13.5); tag('RT', 592.7, 8, 13.5);
tag('A', 14, 18.5, 13); tag('B', 244, 18.5, 13); tag('C', 478, 18.5, 13);
tag('D', 13.3, 224.5, 13); tag('E', 249.7, 224.5, 13); tag('F', 477.7, 225, 13);
tag('G', 13.3, 436, 13); tag('H', 241.3, 436, 13); tag('I', 472.7, 435, 13);
</script>
</body>
</html>
